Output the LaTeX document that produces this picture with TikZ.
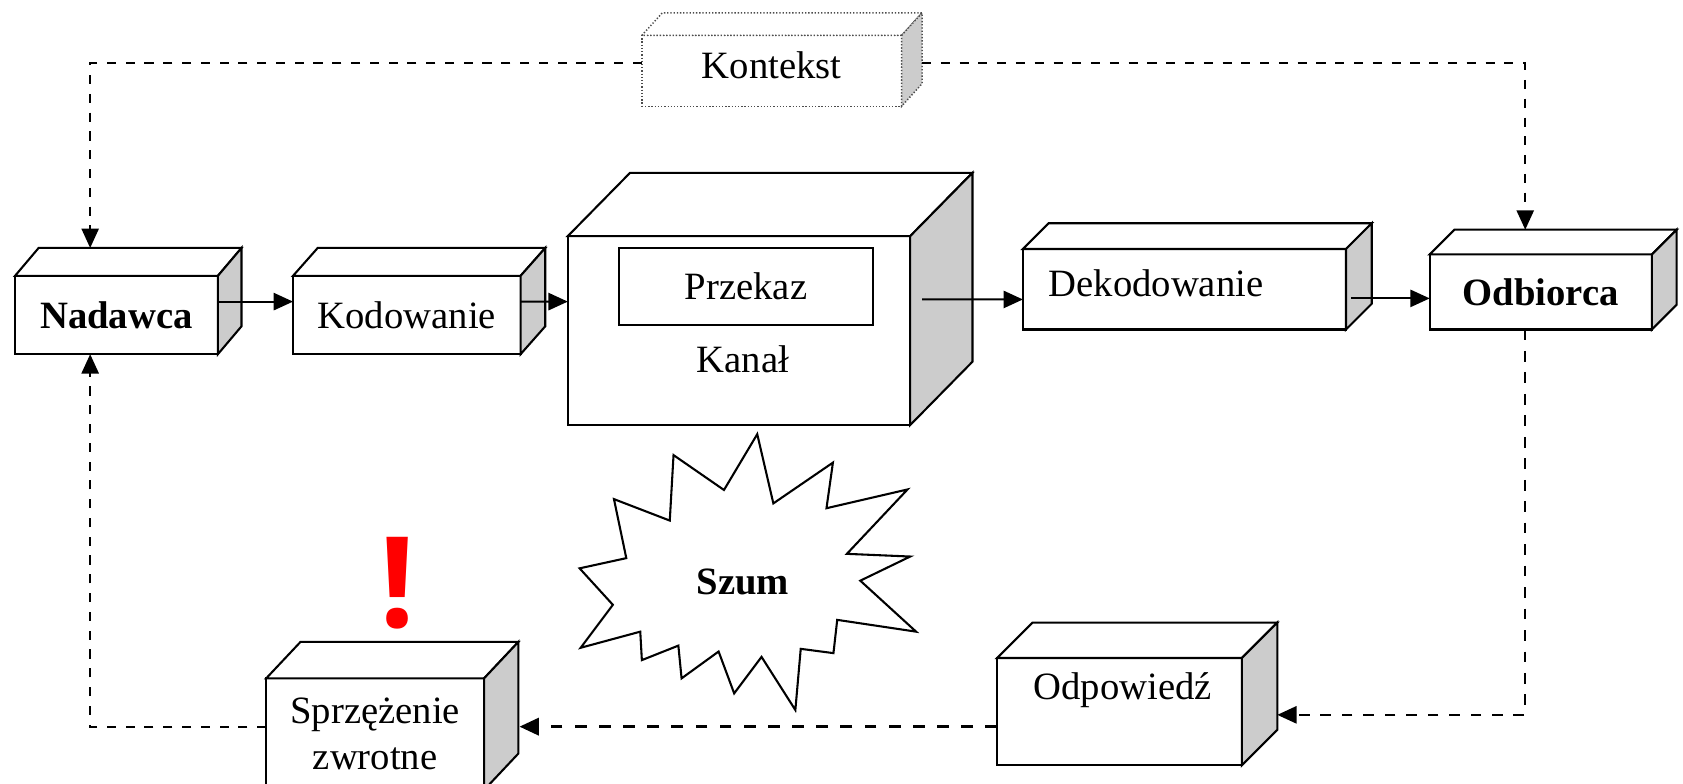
\documentclass[tikz,border=0pt]{standalone}
\usepackage{fontspec}
\setmainfont{Liberation Serif}
\newfontfamily\znakfont{Open Sans}
\usepackage{tikz}
\usetikzlibrary{arrows.meta}

\newcommand{\kostka}[4][]{%
	\draw[line width=1.1pt,fill=white,#1] (#2.north west) -- ++(#3,#4) -- ([shift={(#3,#4)}]#2.north east) -- (#2.north east) -- cycle;
	\draw[line width=1.1pt,fill=gray!40,#1] (#2.north east) -- ++(#3,#4) -- ([shift={(#3,#4)}]#2.south east) -- (#2.south east) -- cycle;
}

\begin{document}
\begin{tikzpicture}[>={Triangle[length=0.36cm,width=0.32cm]},
		font=\fontsize{20.5}{24.5}\selectfont,
		blok/.style={draw,line width=1.1pt,fill=white,outer sep=0pt,inner sep=0pt,minimum height=1.46cm},
		kontur/.style={draw=black!70,line width=0.8pt,dash pattern=on 0.7pt off 1pt}]
		\clip (0,0) rectangle (31.36,14.6);
		\fill[white] (0,0) rectangle (31.36,14.6);
		\begin{scope}[every node/.append style={blok}]
				\node[minimum width=3.78cm,font=\fontsize{20.5}{24.5}\selectfont\bfseries] (Nadawca) at (2.17,8.73) {Nadawca};
				\node[minimum width=4.24cm] (Kodowanie) at (7.58,8.73) {Kodowanie};
				\node[minimum width=6.38cm,minimum height=3.52cm] (Kanal) at (13.77,8.44) {};
				\node[minimum width=6.02cm,minimum height=1.5cm] (Dekodowanie) at (22.07,9.21) {};
				\node[minimum width=4.14cm,minimum height=1.4cm,font=\fontsize{20.5}{24.5}\selectfont\bfseries] (Odbiorca) at (28.71,9.16) {Odbiorca};
				\node[minimum width=4.06cm,minimum height=2.08cm,align=center] (Sprzezenie) at (6.99,0.92) {Sprzężenie\\zwrotne};
				\node[minimum width=4.56cm,minimum height=2cm] (Odpowiedz) at (20.86,1.34) {};
		\end{scope}
		\node[blok,kontur,minimum width=4.84cm,minimum height=1.32cm] (Kontekst) at (14.38,13.28) {};
		\kostka{Nadawca}{0.44}{0.52}
		\kostka{Kodowanie}{0.46}{0.52}
		\kostka{Kanal}{1.16}{1.18}
		\kostka{Dekodowanie}{0.48}{0.48}
		\kostka{Odbiorca}{0.46}{0.46}
		\kostka{Sprzezenie}{0.64}{0.68}
		\kostka{Odpowiedz}{0.66}{0.66}
		\kostka[kontur]{Kontekst}{0.38}{0.42}
		\node (KontekstNapis) at ([yshift=0.1cm]Kontekst) {Kontekst};
		\node (DekodowanieNapis) at ([xshift=-0.53cm,yshift=0.11cm]Dekodowanie) {Dekodowanie};
		\node (OdpowiedzNapis) at ([xshift=0.06cm,yshift=0.4cm]Odpowiedz) {Odpowiedź};
		\node[draw,line width=1.1pt,minimum width=4.72cm,minimum height=1.44cm,outer sep=0pt] (Przekaz) at (13.90,9.26) {Przekaz};
		\node (KanalNapis) at ([xshift=0.07cm,yshift=-0.54cm]Kanal) {Kanał};
		\draw[line width=1.1pt,fill=white] (14.11,6.51) -- (14.41,5.22) -- (15.52,5.98) -- (15.40,5.13) -- (16.91,5.48)
				-- (15.78,4.28) -- (16.96,4.23) -- (16.03,3.78) -- (17.07,2.83) -- (15.60,3.05) -- (15.53,2.43)
				-- (14.92,2.51) -- (14.82,1.37) -- (14.19,2.36) -- (13.68,1.68) -- (13.39,2.46) -- (12.70,1.96)
				-- (12.64,2.57) -- (11.96,2.30) -- (11.93,2.83) -- (10.82,2.53) -- (11.42,3.33) -- (10.80,4.01)
				-- (11.67,4.20) -- (11.44,5.30) -- (12.48,4.90) -- (12.55,6.12) -- (13.49,5.47) -- cycle;
		\node[font=\fontsize{20.5}{24.5}\selectfont\bfseries] (Szum) at (13.84,3.76) {Szum};
		\node[text=red,font=\znakfont\bfseries\fontsize{67}{67}\selectfont] (Uwaga) at (7.40,3.74) {!};
		\begin{scope}[every edge/.style={draw,->,line width=1.1pt}]
				\path ([yshift=0.25cm]Nadawca.east) edge ([yshift=0.25cm]Kodowanie.west);
				\path ([yshift=0.25cm]Kodowanie.east) edge ([yshift=0.54cm]Kanal.west);
				\path ([xshift=0.22cm,yshift=0.58cm]Kanal.east) edge ([yshift=-0.19cm]Dekodowanie.west);
				\path ([xshift=0.1cm,yshift=-0.17cm]Dekodowanie.east) edge ([yshift=-0.12cm]Odbiorca.west);
		\end{scope}
		\begin{scope}[line width=1pt,dash pattern=on 0.17cm off 0.18cm]
				\draw[->] ([yshift=0.14cm]Kontekst.west) -| ([xshift=-0.49cm,yshift=0.52cm]Nadawca.north);
				\draw[->] ([xshift=0.38cm,yshift=0.14cm]Kontekst.east) -| ([xshift=-0.29cm,yshift=0.46cm]Odbiorca.north);
				\draw[->] ([yshift=0.14cm]Sprzezenie.west) -| ([xshift=-0.49cm]Nadawca.south);
		\end{scope}
		\draw[->,line width=1.2pt,dash pattern=on 0.2cm off 0.2cm] ([xshift=-0.29cm]Odbiorca.south) |- ([xshift=0.66cm,yshift=-0.06cm]Odpowiedz.east);
		\draw[->,line width=1.6pt,dash pattern=on 0.22cm off 0.23cm] ([yshift=-0.28cm]Odpowiedz.west) -- ([xshift=0.66cm,yshift=0.14cm]Sprzezenie.east);
\end{tikzpicture}
\end{document}
